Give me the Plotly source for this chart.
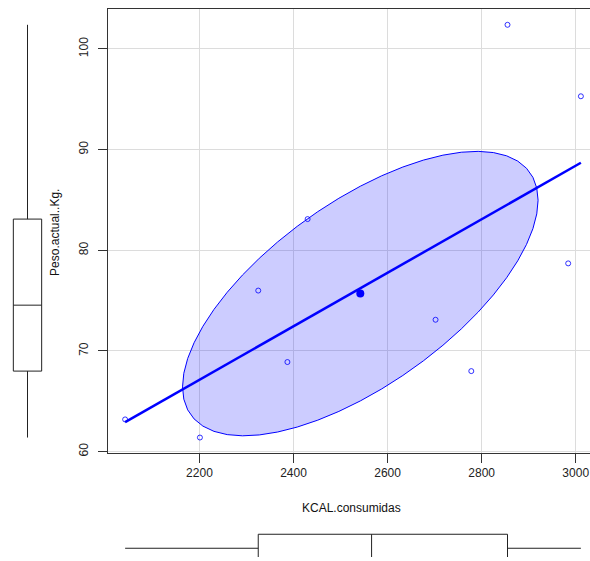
import numpy as np
import plotly.graph_objects as go

# ---- data ----
kcal = [2042, 2201, 2325, 2387, 2430, 2702, 2778, 2855, 2984, 3011]
peso = [63.2, 61.4, 76.0, 68.9, 83.1, 73.1, 68.0, 102.4, 78.7, 95.3]

x_ticks = [2200, 2400, 2600, 2800, 3000]
y_ticks = [60, 70, 80, 90, 100]

x_title = "KCAL.consumidas"
y_title = "Peso.actual..Kg."

# robust data ellipse (centre, half-extents, correlation)
ell_center = [2542, 75.7]
ell_half = [378, 14.13]
ell_rho = 0.656

x_range = [2004.5, 3030.4]
y_range = [59.9, 104.0]

W, H = 590, 561
K = 0.993  # the page is captured slightly squeezed vertically; compensate


def px(p):
    return p / W


def py(p):
    return 1 - (p / K) / H


FONT = "Liberation Sans, Arial, sans-serif"
BLUE = "#0000FF"

# regression line
slope, intercept = np.polyfit(kcal, peso, 1)
xl = np.array([min(kcal), max(kcal)])
yl = intercept + slope * xl

# ellipse outline
t = np.linspace(0, 2 * np.pi, 53)
ex = ell_center[0] + ell_half[0] * np.cos(t)
ey = ell_center[1] + ell_half[1] * (ell_rho * np.cos(t) + np.sqrt(1 - ell_rho ** 2) * np.sin(t))

fig = go.Figure()

fig.add_trace(go.Scatter(
    x=ex, y=ey, mode="lines", fill="toself",
    fillcolor="rgba(0,0,255,0.2)", line=dict(color=BLUE, width=1),
    hoverinfo="skip", showlegend=False, xaxis="x", yaxis="y"))

fig.add_trace(go.Scatter(
    x=xl, y=yl, mode="lines", line=dict(color=BLUE, width=2.5),
    showlegend=False, xaxis="x", yaxis="y"))

fig.add_trace(go.Scatter(
    x=kcal, y=peso, mode="markers",
    marker=dict(symbol="circle-open", size=5, color="rgba(0,0,255,0.8)", line=dict(width=1)),
    showlegend=False, xaxis="x", yaxis="y"))

fig.add_trace(go.Scatter(
    x=[ell_center[0]], y=[ell_center[1]], mode="markers",
    marker=dict(symbol="circle", size=8, color=BLUE),
    showlegend=False, xaxis="x", yaxis="y"))

# marginal boxplots
fig.add_trace(go.Box(
    y=peso, x0=0, width=1.03, quartilemethod="exclusive", boxpoints=False,
    whiskerwidth=0, fillcolor="white", line=dict(color="#222222", width=1),
    showlegend=False, xaxis="x3", yaxis="y3", hoverinfo="skip"))

fig.add_trace(go.Box(
    x=kcal, y0=0, width=1.0, orientation="h", quartilemethod="exclusive", boxpoints=False,
    whiskerwidth=0, fillcolor="white", line=dict(color="#222222", width=1),
    showlegend=False, xaxis="x4", yaxis="y4", hoverinfo="skip"))

main_x_dom = [px(107.5), 1.0]
main_y_dom = [py(452.7), py(8.7)]

axis_common = dict(
    showgrid=True, gridcolor="#dcdcdc", gridwidth=1, zeroline=False,
    showline=True, linecolor="#333333", linewidth=1,
    ticks="outside", ticklen=9, tickcolor="#333333", tickwidth=1,
    tickfont=dict(family=FONT, size=12, color="#222222"),
)

fig.update_layout(
    width=W, height=H,
    margin=dict(l=0, r=0, t=0, b=0),
    paper_bgcolor="white", plot_bgcolor="white",
    xaxis=dict(domain=main_x_dom, range=x_range, tickvals=x_ticks, mirror=True,
               anchor="y", **axis_common),
    yaxis=dict(domain=main_y_dom, range=y_range, tickvals=y_ticks, tickangle=-90,
               ticklabelstandoff=5, anchor="x", **axis_common),
    xaxis3=dict(domain=[0, px(55)], range=[-1, 1], visible=False, anchor="y3"),
    yaxis3=dict(domain=main_y_dom, range=y_range, visible=False, anchor="x3"),
    xaxis4=dict(domain=main_x_dom, range=x_range, visible=False, anchor="y4"),
    yaxis4=dict(domain=[0, 40 / H], range=[-8.8 / 28.2, 31.2 / 28.2], visible=False, anchor="x4"),
    annotations=[
        dict(text=x_title, xref="paper", yref="paper", x=px(351.7), y=py(508.3),
             xanchor="center", yanchor="middle", showarrow=False,
             font=dict(family=FONT, size=12, color="#111111")),
        dict(text=y_title, xref="paper", yref="paper", x=px(55), y=py(233),
             xanchor="center", yanchor="middle", showarrow=False, textangle=-90,
             font=dict(family=FONT, size=12, color="#111111")),
    ],
)

fig.write_html("out.html")
